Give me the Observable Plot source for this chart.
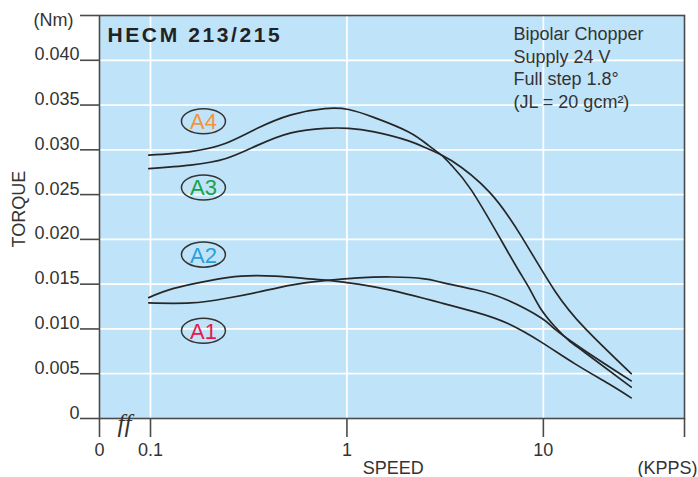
<!DOCTYPE html>
<html><head><meta charset="utf-8">
<script src="https://cdn.jsdelivr.net/npm/d3@7"></script>
<script src="https://cdn.jsdelivr.net/npm/@observablehq/plot@0.6"></script>
<style>body{margin:0;background:#fff}</style>
</head><body><div id="chart"></div>
<script>
// ---- data ----
const xMin = 0.055, xMax = 52.3;            // axis ends (left end labelled "0", broken axis)
const xTickValues = [xMin, 0.1, 1, 10, xMax];
const xTickLabels = ["0", "0.1", "1", "10", ""];
const xGridValues = [0.1, 1, 10];
const yMax = 0.045;
const yTickValues = [0, 0.005, 0.010, 0.015, 0.020, 0.025, 0.030, 0.035, 0.040];
const yTickLabels = ["0", "0.005", "0.010", "0.015", "0.020", "0.025", "0.030", "0.035", "0.040"];

const a4Speed  = [0.098, 0.16, 0.24, 0.35, 0.52, 0.77, 1.02, 1.38, 2.06, 2.6, 3.03, 3.4, 4.3, 6.1, 7.5, 8.5, 9.6, 11.4, 13.5, 16.2, 28];
const a4Torque = [0.0294, 0.0298, 0.0307, 0.0324, 0.0339, 0.0346, 0.0345, 0.0336, 0.0320, 0.0305, 0.0294, 0.0283, 0.0255, 0.0199, 0.0165, 0.0145, 0.0124, 0.0103, 0.0087, 0.0074, 0.0035];
const a3Speed  = [0.098, 0.16, 0.24, 0.35, 0.52, 0.77, 1.02, 1.38, 2.06, 2.6, 3.4, 5.3, 7.8, 11.4, 16.4, 28];
const a3Torque = [0.0279, 0.0283, 0.0290, 0.0305, 0.0319, 0.0324, 0.0324, 0.0320, 0.0310, 0.0301, 0.0288, 0.0253, 0.0202, 0.0143, 0.0100, 0.0050];
const a2Speed  = [0.098, 0.13, 0.2, 0.29, 0.43, 0.64, 0.83, 1.14, 1.69, 2.48, 3.03, 4.47, 6.6, 9.8, 14.5, 21.4, 28];
const a2Torque = [0.0135, 0.0145, 0.0154, 0.0159, 0.0159, 0.0156, 0.0154, 0.0150, 0.0143, 0.0134, 0.0129, 0.0119, 0.0106, 0.0085, 0.0061, 0.0039, 0.0023];
const a1Speed  = [0.098, 0.16, 0.24, 0.35, 0.52, 0.77, 1.14, 1.69, 2.48, 3.03, 4.46, 6.6, 9.8, 11.4, 16.2, 28];
const a1Torque = [0.0129, 0.0129, 0.0134, 0.0141, 0.0149, 0.0154, 0.0157, 0.0158, 0.0156, 0.0152, 0.0144, 0.0132, 0.0112, 0.0100, 0.0076, 0.0042];

const curveNames = ["A4", "A3", "A2", "A1"];
const labelSpeed = 0.186;
const labelTorque = [0.0332, 0.0258, 0.0183, 0.0098];
const labelColors = ["#f3933a", "#17a24b", "#2a9fdc", "#e8184a"];

const title = "HECM 213/215";
const note = "Bipolar Chopper\nSupply 24 V\nFull step 1.8°\n(JL = 20 gcm²)";
const torqueLabelAt = 0.0191;
const speedLabelAt = 1.72;

// ---- build tables ----
const series = [[a4Speed, a4Torque], [a3Speed, a3Torque], [a2Speed, a2Torque], [a1Speed, a1Torque]];
const lines = series.flatMap(([s, t], k) => s.map((v, i) => ({name: curveNames[k], speed: v, torque: t[i]})));
const labels = curveNames.map((n, i) => ({name: n, speed: labelSpeed, torque: labelTorque[i], color: labelColors[i]}));
const xTicks = xTickValues.map((v, i) => ({v, t: xTickLabels[i]})).filter(d => d.t !== "");
const yTicks = yTickValues.map((v, i) => ({v, t: yTickLabels[i]}));

const ellipse = {
  draw(ctx, size) {
    const rx = Math.sqrt(size / Math.PI), ry = rx * 0.57;
    const kx = rx * 0.5523, ky = ry * 0.5523;
    ctx.moveTo(rx, 0);
    ctx.bezierCurveTo(rx, ky, kx, ry, 0, ry);
    ctx.bezierCurveTo(-kx, ry, -rx, ky, -rx, 0);
    ctx.bezierCurveTo(-rx, -ky, -kx, -ry, 0, -ry);
    ctx.bezierCurveTo(kx, -ry, rx, -ky, rx, 0);
    ctx.closePath();
  }
};

const txt = "#333";
const chart = Plot.plot({
  width: 698, height: 477,
  marginLeft: 99, marginRight: 14, marginTop: 15, marginBottom: 59,
  style: {fontFamily: "'Liberation Sans', Arial, Helvetica, sans-serif", fontSize: "18px", color: txt, background: "transparent"},
  x: {type: "log", domain: [xMin, xMax]},
  y: {domain: [0, yMax]},
  marks: [
    Plot.frame({fill: "#bfe4f9", stroke: "none"}),
    Plot.gridX(xGridValues, {stroke: "white", strokeOpacity: 1, strokeWidth: 1.7}),
    Plot.gridY(yTickValues.slice(1), {stroke: "white", strokeOpacity: 1, strokeWidth: 1.7}),
    Plot.frame({stroke: "#4a4a4a", strokeWidth: 1.6}),
    Plot.axisX(xTickValues, {tickSize: 19, stroke: "#4a4a4a", strokeWidth: 1.6, fill: "none", label: null}),
    Plot.axisY([...yTickValues, yMax], {tickSize: 19, stroke: "#4a4a4a", strokeWidth: 1.6, fill: "none", label: null}),
    Plot.text(xTicks, {x: "v", text: "t", frameAnchor: "bottom", dy: 37, lineAnchor: "bottom", fill: txt, fontSize: 18}),
    Plot.text(yTicks, {y: "v", text: "t", frameAnchor: "left", dx: -20, textAnchor: "end", lineAnchor: "bottom", fill: txt, fontSize: 18}),
    Plot.text([{v: yMax, t: "(Nm)"}], {y: "v", text: "t", frameAnchor: "left", dx: -26, dy: 5, textAnchor: "end", lineAnchor: "middle", fill: txt, fontSize: 18}),
    Plot.text(["TORQUE"], {y: [torqueLabelAt], frameAnchor: "left", dx: -80, rotate: -90, fill: txt, fontSize: 18}),
    Plot.text(["SPEED"], {x: [speedLabelAt], frameAnchor: "bottom", dy: 55, lineAnchor: "bottom", fill: txt, fontSize: 18}),
    Plot.text(["(KPPS)"], {frameAnchor: "bottom-right", dx: 13, dy: 55, textAnchor: "end", lineAnchor: "bottom", fill: txt, fontSize: 18}),
    Plot.text(["ff"], {frameAnchor: "bottom-left", dx: 18, dy: 5, lineAnchor: "middle", fontFamily: "'Liberation Serif', 'DejaVu Serif', serif", fontStyle: "italic", fontSize: 25, fill: txt}),
    Plot.line(lines, {x: "speed", y: "torque", z: "name", curve: "natural", stroke: "#262626", strokeWidth: 1.7}),
    Plot.dot(labels, {x: "speed", y: "torque", r: 22, symbol: ellipse, fill: "none", stroke: "#333", strokeWidth: 1.5}),
    Plot.text(labels, {x: "speed", y: "torque", text: "name", fill: "color", fontSize: 22, dy: 1}),
    Plot.text([title], {frameAnchor: "top-left", dx: 8, dy: 12, lineAnchor: "top", fontWeight: "bold", fontSize: 21, fill: "#222"}),
    Plot.text([note], {frameAnchor: "top-left", dx: 414, dy: 9, lineAnchor: "top", textAnchor: "start", lineHeight: 1.25, fontSize: 18, fill: txt})
  ]
});
d3.select(chart).selectAll("text").filter(function() { return this.textContent === title; }).style("letter-spacing", "2.6px");
document.getElementById("chart").append(chart);
</script>
</body></html>
